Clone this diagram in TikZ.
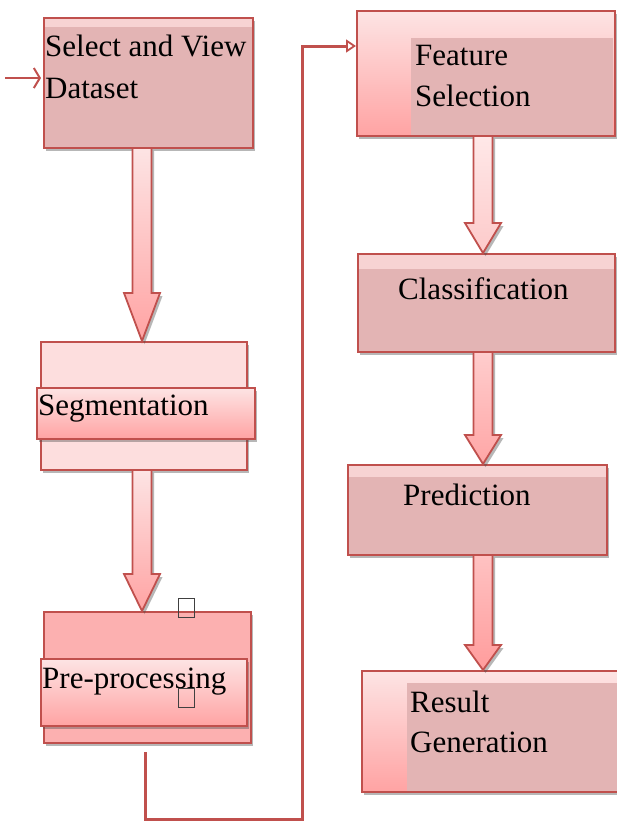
\documentclass[tikz,border=0pt]{standalone}
\usepackage{fontspec}
\setmainfont{Liberation Serif}
\usetikzlibrary{calc,shadows,arrows.meta}
\definecolor{bord}{HTML}{C0504D}
\definecolor{boxc}{HTML}{E3B4B4}
\definecolor{stripc}{HTML}{F7D3D3}
\definecolor{palec}{HTML}{FDDEDE}
\definecolor{pinkc}{HTML}{FCB0B0}
\definecolor{lightc}{HTML}{FDE4E4}
\definecolor{deepc}{HTML}{FFA3A3}
\definecolor{ltopc}{HTML}{FFE8E8}
\definecolor{lbotc}{HTML}{FDCACA}
\definecolor{mtopc}{HTML}{FFCDCD}
\definecolor{mbotc}{HTML}{FFA6A6}
\definecolor{dtopc}{HTML}{FFC2C2}
\definecolor{dbotc}{HTML}{FF9C9C}
\tikzset{
 shad/.style={drop shadow={shadow xshift=2.5pt,shadow yshift=-3pt,opacity=0.4,fill=black!70}},
 box/.style={draw=bord,line width=1.9pt,rectangle,inner sep=0pt,anchor=north west,shad},
 sz/.style 2 args={minimum width=#1pt,minimum height=#2pt},
 strip/.style={path picture={\fill[stripc] (path picture bounding box.north west) rectangle ([yshift=-#1]path picture bounding box.north east);}},
 inset/.style 2 args={path picture={\fill[boxc] ([xshift=#1,yshift=-#2]path picture bounding box.north west) rectangle ([xshift=-2pt]path picture bounding box.south east);}},
 txt/.style={anchor=base west,inner sep=0pt,font=\fontsize{31}{41}\selectfont,text=black},
 blk/.style={draw=bord,line width=1.8pt,line join=miter,shad},
 conn/.style={draw=bord,line width=3pt},
 glyph/.style={draw=black!75,line width=0.7pt,rectangle,inner sep=0pt,anchor=north west,minimum width=16pt,minimum height=19pt},
}
\newcommand\blkarrow[4]{%
 \path[#1] let \p1=(#2), \p2=(#3) in
  (\x1-9.5pt,\y1) -- (\x1-9.5pt,\y2+#4) -- (\x1-18pt,\y2+#4) -- (\x1,\y2)
  -- (\x1+18pt,\y2+#4) -- (\x1+9.5pt,\y2+#4) -- (\x1+9.5pt,\y1) -- cycle;}
\begin{document}
\begin{tikzpicture}[x=1pt,y=-1pt]
\fill[white] (0,0) rectangle (617,823);
\useasboundingbox (0,0) rectangle (617,823);
% boxes
\node[box,sz={209}{130},fill=boxc,strip=9pt] (sel) at (43,17) {};
\node[box,sz={206}{128},fill=palec] (seg) at (40,341) {};
\node[box,sz={218}{51},top color=lightc,bottom color=deepc] (segb) at (36,387) {};
\node[box,sz={207}{131},fill=pinkc] (pre) at (43,611) {};
\node[box,sz={206}{67},top color=lightc,bottom color=deepc] (preb) at (40,658) {};
\node[box,sz={258}{125},top color=lightc,bottom color=deepc,inset={54pt}{27pt}] (feat) at (356,10) {};
\node[box,sz={257}{98},fill=boxc,strip=15pt] (cls) at (357,253) {};
\node[box,sz={259}{90},fill=boxc,strip=12pt] (pred) at (347,464) {};
\node[box,sz={262}{121},top color=lightc,bottom color=deepc,inset={45pt}{12pt}] (res) at (361,670) {};
% texts
\node[txt] (t1) at (45,56) {Select and View};
\node[txt] (t2) at (45,98) {Dataset};
\node[txt] (t3) at (38,415) {Segmentation};
\node[txt] (t4) at (42,688) {Pre-processing};
\node[txt] (t5) at (415,65) {Feature};
\node[txt] (t6) at (415,106) {Selection};
\node[txt] (t7) at (398,299) {Classification};
\node[txt] (t8) at (403,505) {Prediction};
\node[txt] (t9) at (410,712) {Result};
\node[txt] (t10) at (410,752) {Generation};
% missing-glyph boxes
\node[glyph] (g1) at (178,598) {};
\node[glyph] (g2) at (178,688) {};
% block arrows
\coordinate (cL) at (142,0);
\coordinate (cR) at (483,0);
\blkarrow{blk,top color=lightc,bottom color=deepc}{$(sel.south -| cL)+(0,-1)$}{seg.north -| cL}{48pt}
\blkarrow{blk,top color=lightc,bottom color=deepc}{$(seg.south -| cL)+(0,-1)$}{pre.north -| cL}{37pt}
\blkarrow{blk,top color=ltopc,bottom color=lbotc}{$(feat.south -| cR)+(0,-1)$}{cls.north -| cR}{30pt}
\blkarrow{blk,top color=mtopc,bottom color=mbotc}{$(cls.south -| cR)+(0,-1)$}{pred.north -| cR}{29pt}
\blkarrow{blk,top color=dtopc,bottom color=dbotc}{$(pred.south -| cR)+(0,-1)$}{res.north -| cR}{25pt}
% entry arrow
\coordinate (ein) at (5,78);
\draw[bord,line width=2pt,shorten >=2pt,-{Straight Barb[length=6pt,width=20pt]}] (ein) -- (ein -| sel.west);
% loop connector
\coordinate (ls) at (145,752);
\coordinate (lc) at (302,819);
\coordinate (lin) at (0,46);
\draw[conn,-{Triangle[open,length=10pt,width=13pt,line width=1.8pt]}] (ls) |- (lc) |- (lin -| feat.west);
\end{tikzpicture}
\end{document}
